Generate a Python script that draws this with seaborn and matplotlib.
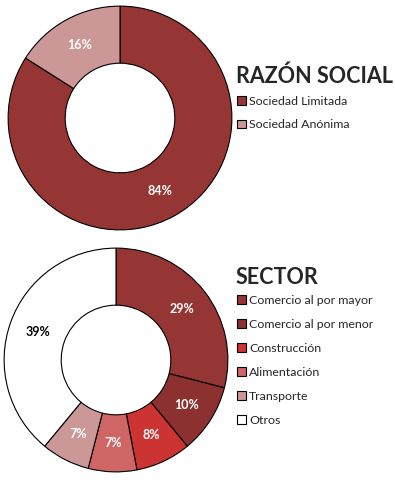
import matplotlib
matplotlib.use("Agg")
import matplotlib.pyplot as plt
import seaborn as sns

sns.set_style("white")
plt.rcParams['font.family'] = ['Lato', 'DejaVu Sans']

# data
razon_labels = ["Sociedad Limitada", "Sociedad Anónima"]
razon_values = [84, 16]
razon_colors = ["#963634", "#CC9897"]

sector_labels = ["Comercio al por mayor", "Comercio al por menor", "Construcción",
                 "Alimentación", "Transporte", "Otros"]
sector_values = [29, 10, 8, 7, 7, 39]
sector_colors = ["#963634", "#8C3030", "#CC3333", "#CF6565", "#CC9897", "#FFFFFF"]
sector_text = ["white", "white", "white", "white", "white", "black"]

W, H = 395, 488
fig = plt.figure(figsize=(W / 100, H / 100), dpi=100)


def donut(ax, values, colors, txtcolors):
    wedges, texts = ax.pie(values, colors=colors, startangle=90, counterclock=False,
                           radius=1, wedgeprops=dict(width=0.51, edgecolor="black",
                                                     linewidth=0.8))
    # percentage labels at middle of ring
    import numpy as np
    total = sum(values)
    ang = 90.0
    for v, c in zip(values, txtcolors):
        mid = np.deg2rad(ang - 360.0 * v / total / 2)
        ang -= 360.0 * v / total
        ax.text(0.745 * np.cos(mid), 0.745 * np.sin(mid), f"{v}%", ha="center",
                va="center", color=c, fontsize=9, fontweight="bold")
    ax.set_xlim(-1.01, 1.01)
    ax.set_ylim(-1.01, 1.01)
    ax.set_aspect("equal")
    ax.axis("off")
    return wedges


def px_axes(cx, cy, r):
    return fig.add_axes([(cx - r) / W, (H - cy - r) / H, 2 * r / W, 2 * r / H])


ax1 = px_axes(120, 118, 113)
w1 = donut(ax1, razon_values, razon_colors, ["white", "white"])
ax2 = px_axes(116, 360, 113)
w2 = donut(ax2, sector_values, sector_colors, sector_text)

fig.text(236 / W, 1 - 76 / H, "RAZÓN SOCIAL", fontsize=15.5, fontweight="bold",
         va="center", ha="left")
fig.text(236 / W, 1 - 277 / H, "SECTOR", fontsize=15.5, fontweight="bold",
         va="center", ha="left")

leg_kw = dict(loc="upper left", frameon=False, fontsize=8.9, handlelength=0.7,
              handleheight=0.7, handletextpad=0.3, borderaxespad=0, borderpad=0)
fig.legend(w1, razon_labels, bbox_to_anchor=(237 / W, 1 - 96 / H),
           labelspacing=1.0, **leg_kw)
fig.legend(w2, sector_labels, bbox_to_anchor=(237 / W, 1 - 295 / H),
           labelspacing=1.05, **leg_kw)

fig.savefig("out.png", dpi=100, facecolor="white")
